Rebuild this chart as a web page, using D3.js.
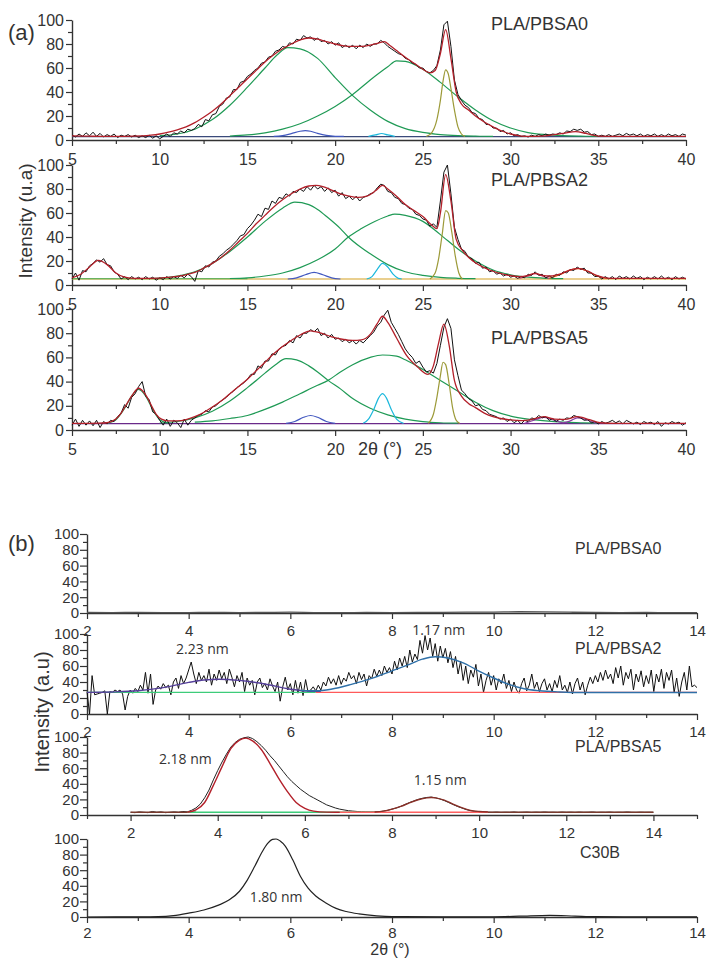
<!DOCTYPE html>
<html>
<head>
<meta charset="utf-8">
<script src="https://cdn.jsdelivr.net/npm/d3@7"></script>
<style>
body { margin: 0; background: #fff; }
</style>
</head>
<body>
<div id="chart"></div>
<script>
// ---------- panel (a) : WAXS, 2theta 5..40, measured every 0.2 deg ----------
var labelsA = ["PLA/PBSA0", "PLA/PBSA2", "PLA/PBSA5"];
var xTicksA = [5, 10, 15, 20, 25, 30, 35, 40];
var xMinorA = [7.5, 12.5, 17.5, 22.5, 27.5, 32.5, 37.5];
var yTicks = [0, 20, 40, 60, 80, 100];
var yMinor = [10, 30, 50, 70, 90];

var rawA0 = [
  [4, 2.5, 5, 3, 6], [3.5, 6.5, 3, 5.5, 2.5], [4.5, 3, 5, 2, 4], [3, 4.5, 2.5, 4, 2],
  [3.5, 2, 4, 1.5, 3.5], [1, 3, 5, 3, 6], [5, 7.5, 6, 9, 8], [9.5, 13, 11, 17, 16],
  [21, 22, 28, 30, 35], [36, 42, 42, 48, 49], [53, 55, 58, 60, 64], [65, 69, 70, 74, 75],
  [78, 77, 81, 80, 84], [83, 87, 85, 86, 83], [85, 82, 83, 80, 82], [79, 81, 77, 79, 77],
  [79, 76, 79, 77, 80], [78, 80, 80, 83, 81], [78, 76, 74, 72, 71], [68, 67, 64, 63, 60],
  [60, 57, 56, 58, 62], [75, 96, 99, 78, 50], [38, 33, 29, 27, 23], [22, 18, 17, 13, 13],
  [10, 10, 7, 8, 5], [6, 3.5, 4.5, 3, 3.5], [2.5, 4, 3, 4.5, 3.5], [5, 4, 5, 4.5, 6],
  [5, 7.5, 7, 9, 8], [9, 6.5, 7, 4.5, 5], [3, 4, 3, 4.5, 3], [4, 5, 3.5, 5.5, 4],
  [5, 3.5, 5, 3, 4.5], [3.5, 5, 3, 4.5, 3], [5, 3.5, 4.5, 3, 5], [4]
];
var rawA2 = [
  [5, 10, 4, 12, 11], [16, 18, 21, 19, 22], [17, 16, 11, 9, 5], [7, 4.5, 7, 5, 6.5],
  [4.5, 7, 5, 6.5, 4], [6, 4.5, 7, 5, 7], [5.5, 8, 6, 9, 7], [3, 12, 11, 16, 15],
  [19, 20, 24, 26, 29], [31, 34, 37, 41, 42], [47, 50, 54, 59, 57], [64, 63, 70, 68, 73],
  [72, 76, 74, 78, 77], [80, 78, 82, 79, 83], [80, 82, 78, 81, 77], [79, 74, 77, 72, 74],
  [71, 74, 70, 73, 74], [76, 77, 81, 84, 83], [78, 77, 73, 72, 68], [67, 64, 63, 59, 58],
  [55, 54, 49, 51, 48], [70, 94, 100, 76, 48], [38, 30, 28, 23, 22], [18, 19, 14, 15, 11],
  [12, 9, 10, 7.5, 9], [6.5, 7.5, 5.5, 7, 6], [9, 8, 11, 8, 9], [6, 7.5, 6, 9, 8],
  [11, 10, 13, 12, 15], [13, 14, 10, 10, 7], [7.5, 5, 7, 5, 7], [4.5, 7.5, 5.5, 7, 5],
  [7.5, 5.5, 7, 4.5, 6.5], [5, 7, 5, 7.5, 5], [6.5, 4.5, 7, 5, 6.5], [5]
];
var rawA5 = [
  [4, 9, 3, 8, 4], [7.5, 3.5, 8, 2, 7], [5, 8, 7, 11, 14], [21, 18, 27, 30, 36],
  [40, 28, 25, 15, 13], [8, 4, 9, 3, 8], [6, 2, 9, 4, 8], [10, 12, 13, 16, 15],
  [19, 20, 23, 25, 27], [30, 32, 35, 37, 39], [42, 46, 46, 53, 51], [57, 57, 63, 62, 67],
  [69, 70, 74, 72, 78], [76, 80, 80, 83, 81], [84, 78, 80, 76, 79], [75, 76, 73, 75, 72],
  [74, 71, 74, 72, 75], [78, 81, 86, 89, 95], [99, 89, 84, 79, 73], [67, 63, 60, 55, 57],
  [52, 48, 49, 47, 55], [70, 85, 92, 84, 58], [45, 33, 30, 26, 24], [20, 21, 17, 16, 13],
  [12, 11, 9, 10, 7], [9, 6, 8, 5, 8], [7, 10, 9, 12, 10], [11, 8, 9.5, 7, 9],
  [8, 10, 9.5, 12, 11], [10, 8, 8.5, 6, 7], [5, 7, 5.5, 6.5, 8], [6, 7.5, 5, 8, 6.5],
  [5, 6.5, 4.5, 7, 5.5], [6.5, 4.5, 7, 3, 6], [5, 7, 5.5, 6.5, 4], [6]
];

// fitted curves, [2theta, intensity]
var fitA0 = [[5,3.5],[6,3.2],[7,3],[8,3],[9,3.4],[9.5,4],[10,5],[10.5,6.5],[11,8.5],[11.5,11],[12,14.5],[12.5,19],[13,24],[13.5,30],[14,37],[14.5,44],[15,51],[15.5,58],[16,65],[16.5,71],[17,76],[17.5,80],[18,83.5],[18.5,85],[19,84],[19.5,82],[20,80],[20.5,78.5],[21,78],[21.5,78],[22,79],[22.5,81],[22.8,82],[23.1,79],[23.5,74.5],[24,69],[24.5,64],[25,59],[25.4,56],[25.7,58],[26,72],[26.3,92],[26.6,68],[26.9,40],[27.2,30],[27.6,25],[28,20],[28.5,15],[29,11],[29.5,7.5],[30,5],[30.5,3.5],[31,3],[32,3.5],[33,5.5],[33.7,7],[34.3,5.5],[35,3.3],[36,3],[40,3]];
var g1A0 = [[10,3.6],[11,5],[12,9],[13,17],[14,29],[15,44],[16,60],[16.7,71],[17.3,77],[18,76],[19,68],[20,52],[21,37],[22,25],[23,15.5],[24,9.5],[25,6.3],[26,4.5],[27,3.6],[28,3.2],[29,3]];
var g2A0 = [[14,3.3],[15,4.2],[16,6],[17,9],[18,13.5],[19,20],[20,28],[21,38],[22,50],[23,61],[23.5,66],[24,65.5],[25,59],[26,48],[27,36],[28,25],[29,16],[30,10],[31,6.2],[32,4.5],[33,3.6],[34,3.2],[35,3]];
var blueA0 = [[16.5,3],[17,3.6],[17.5,5.3],[18,7.3],[18.3,7.8],[18.6,7.3],[19,5.5],[19.5,3.8],[20,3.1],[20.5,3]];
var cyanA0 = [[21.9,3],[22.3,4.2],[22.65,5.4],[23,4.2],[23.4,3]];
var oliveA0 = [[25.2,3],[25.5,6],[25.8,17],[26,33],[26.15,49],[26.3,58.5],[26.45,55],[26.6,43],[26.8,25],[27,11],[27.2,5],[27.4,3]];
var baseA0 = [[5,2.8],[40,2.8]];

var fitA2 = [[5,6],[5.5,9],[6,15],[6.5,20.5],[7,17],[7.5,10],[8,6.5],[8.5,5.6],[9,5.5],[10,5.8],[10.5,6.3],[11,7.2],[11.5,8.5],[12,10.5],[12.5,14],[13,18],[13.5,23],[14,29],[14.5,36],[15,43],[15.5,51],[16,58],[16.5,65],[17,71],[17.5,76],[18,80],[18.5,82.5],[18.9,83],[19.3,82],[19.8,79],[20.3,76],[20.8,74],[21.3,73],[21.8,74],[22.3,78.5],[22.7,83],[23,80],[23.5,74],[24,67],[24.5,62],[25,57],[25.5,50],[25.8,47],[26,60],[26.3,92],[26.6,70],[26.9,38],[27.3,28],[27.9,19.5],[28.8,12.5],[29.8,8.3],[30.5,7],[31,8],[31.4,9.7],[31.8,8],[32.3,7.5],[32.8,9],[33.3,12],[33.85,13.9],[34.4,11.5],[34.9,8],[35.4,6],[36,5.5],[40,5.5]];
var g1A2 = [[9,5.4],[10,5.8],[11,7.5],[12,11],[13,18],[14,28],[15,40],[16,53],[17,64],[17.7,69],[18.5,67],[19,63],[19.6,56],[20.3,47],[20.75,40],[21.5,31],[22,26],[23,17],[24,11],[25,8],[26,6.3],[27,5.6],[28,5.3]];
var g2A2 = [[14,5.4],[15,6],[16,7.5],[17,10],[18,14.5],[19,21],[20,30],[20.75,40],[21.5,47],[22,51],[23,57.5],[23.4,59],[24,58],[25,53],[26,42],[27,30],[28,20],[29,12.5],[30,8.5],[31,6.5],[32,5.6],[33,5.3]];
var blueA2 = [[17.3,5],[17.8,6],[18.3,8.5],[18.8,10.5],[19.3,8.5],[19.8,6],[20.3,5]];
var cyanA2 = [[21.8,5],[22.1,7],[22.4,13],[22.7,18],[23,15],[23.3,9],[23.6,5.5],[23.8,5]];
var oliveA2 = [[25.4,5],[25.7,10],[25.9,22],[26.1,42],[26.3,62],[26.45,60],[26.65,44],[26.85,24],[27.05,10],[27.25,5]];
var magentaA2 = [[30.5,5.5],[31,7.5],[31.4,9.5],[31.8,7.5],[32.2,5.5]];
var orangeA2 = [[32.2,5.5],[32.8,8.5],[33.3,12],[33.85,13.6],[34.4,11.5],[34.9,7.5],[35.5,5.5]];
var baseA2 = [[5,5],[40,5]];
var greenBaseA2 = [[5,5.2],[15,5.2]];

var fitA5 = [[5,5.5],[6,5.5],[6.5,5.6],[7,6],[7.5,9],[7.8,14],[8.1,21],[8.4,28],[8.8,34.5],[9.2,29],[9.5,21],[9.8,13],[10.1,9],[10.5,7.5],[11,7.5],[11.5,8.5],[12,11],[12.5,14.5],[13,19],[13.5,24],[14,30],[14.5,36],[15,42],[15.5,49],[16,56],[16.5,63],[17,69],[17.5,74],[18,78.5],[18.6,82],[19.2,80],[19.8,77],[20.4,75],[21,74],[21.5,74.5],[22,79],[22.4,88],[22.7,94],[23,89],[23.5,76],[24.1,61],[24.7,52],[25.3,46],[25.6,53],[25.9,72],[26.2,87.5],[26.5,70],[26.8,41],[27.2,28],[27.6,22],[28,18.5],[28.5,14],[29,11],[29.5,9.3],[30,8.3],[30.6,7.7],[31.2,8.7],[31.9,11],[32.5,9],[33.1,8.8],[33.8,11],[34.5,8.5],[35.1,6],[36,5.5],[40,5.5]];
var peakA5 = [[7,5.5],[7.5,8.5],[8,18],[8.4,28],[8.8,33.5],[9.2,28],[9.6,17],[10,8.5],[10.5,5.5]];
var g1A5 = [[10,5.8],[11,7],[12,10],[13,15.5],[14,24],[15,35],[16,47],[16.6,54],[17.2,59],[17.8,58],[18.5,53],[19,48],[19.6,41],[20.3,34],[21,26],[22,18],[23,12.5],[24,9],[25,7],[26,6],[27,5.6]];
var g2A5 = [[12,6.5],[13,7.5],[14,9.5],[15,12],[16,17],[17,23],[18,30],[19,37],[19.6,41],[20.3,48],[21,54],[22,60],[22.7,62],[23.5,61],[24,58],[25,50],[26,41],[27,32],[28,23],[29,16],[30,11.5],[31,9],[32,7.5],[33,6.5],[34,6],[35,5.6]];
var blueA5 = [[17.2,5.5],[17.7,7],[18.2,10.5],[18.6,12],[19,10.5],[19.5,7],[20,5.5]];
var cyanA5 = [[21.6,5.5],[21.9,9],[22.2,17],[22.5,27],[22.7,30],[22.9,27],[23.2,17],[23.5,9],[23.9,5.5]];
var oliveA5 = [[25.3,5.5],[25.6,13],[25.8,27],[26,45],[26.15,56],[26.3,54],[26.5,38],[26.7,18],[26.9,8],[27.1,5.5]];
var purpleA5 = [[30.8,5.5],[31.4,8.5],[31.9,10.5],[32.4,8.5],[33,6],[33.4,7.5],[33.8,10],[34.3,8.5],[34.9,5.5]];
var baseA5 = [[5,5.3],[40,5.3]];

// ---------- panel (b) : SAXS, 2theta 2..14 ----------
var labelsB = ["PLA/PBSA0", "PLA/PBSA2", "PLA/PBSA5", "C30B"];
var xTicksB = [2, 4, 6, 8, 10, 12, 14];
var xMinorB = [3, 5, 7, 9, 11, 13];
var xMinorB5 = [1, 3, 5, 7, 9, 11, 13, 15];
var spacingB = [
  {text: "2.23 nm", plot: 1, x: 3.75, y: 75},
  {text: "1.17 nm", plot: 1, x: 8.4, y: 99},
  {text: "2.18 nm", plot: 2, x: 2.65, y: 65},
  {text: "1.15 nm", plot: 2, x: 8.5, y: 38},
  {text: "1.80 nm", plot: 3, x: 5.2, y: 19}
];

var lineB0 = [[2,0.8],[2.5,0.6],[3,0.7],[3.5,0.5],[4,0.6],[4.5,0.8],[5,0.5],[5.5,0.7],[6,1],[6.5,0.6],[7,0.5],[7.5,0.7],[8,0.6],[8.5,0.8],[9,0.9],[9.5,1],[10,1.2],[10.5,1.6],[11,1.4],[11.5,1],[12,0.7],[12.5,0.6],[13,0.7],[13.5,0.5],[14,0.6]];

// PBSA2, every 0.05 deg
var rawB2 = [
  [28, 0, 48, 24, 25, 26, 27, 29, 0, 28, 27, 30, 28, 30, 25, 5, 22, 30, 26, 32],
  [28, 36, 30, 52, 26, 50, 12, 30, 35, 31, 38, 33, 36, 24, 40, 45, 32, 48, 38, 45],
  [55, 65, 50, 38, 52, 42, 48, 40, 56, 36, 50, 42, 55, 44, 52, 38, 56, 46, 34, 48],
  [40, 52, 28, 45, 36, 42, 24, 40, 45, 33, 38, 30, 44, 35, 28, 40, 16, 34, 46, 30],
  [38, 24, 42, 26, 40, 23, 43, 27, 30, 34, 29, 36, 30, 40, 35, 46, 38, 44, 36, 48],
  [37, 45, 41, 52, 44, 48, 38, 52, 43, 50, 35, 48, 44, 56, 47, 55, 48, 60, 52, 58],
  [50, 66, 55, 70, 60, 72, 58, 80, 65, 75, 68, 92, 76, 98, 80, 95, 72, 88, 66, 85],
  [70, 82, 64, 78, 58, 72, 50, 66, 42, 60, 38, 55, 46, 62, 35, 50, 27, 42, 52, 36],
  [48, 30, 44, 38, 50, 32, 42, 28, 40, 30, 26, 38, 45, 29, 36, 50, 32, 40, 28, 38],
  [44, 30, 38, 28, 42, 33, 48, 30, 36, 27, 40, 25, 38, 45, 30, 40, 24, 36, 46, 38],
  [48, 40, 52, 42, 55, 44, 50, 38, 58, 45, 60, 36, 52, 44, 56, 30, 50, 40, 54, 34],
  [48, 38, 55, 28, 50, 40, 56, 32, 52, 42, 55, 27, 45, 22, 40, 52, 30, 60, 34, 36],
  [33]
];
var purpleB2 = [[2,27],[2.5,27.5],[3,29],[3.5,33],[4,39.5],[4.3,42.5],[4.6,43.5],[5,42],[5.5,37.5],[6,31],[6.4,28.5],[6.6,28.5]];
var blueB2 = [[6.2,29.5],[6.5,29],[6.8,31],[7.2,37],[7.6,44.5],[8,54],[8.3,61],[8.6,68.5],[8.85,71.6],[9.1,70],[9.4,64],[9.7,54],[10,45],[10.3,37],[10.6,31.5],[10.9,29],[11.3,27.5],[11.8,26.8],[14,26.8]];
var greenBaseB2 = [[2,27],[6.5,27]];
var redBaseB2 = [[6.5,27],[14,27]];

// PBSA5, every 0.1 deg
var rawB5 = [
  [3.5, 3, 4, 3.5, 3, 4.5, 3.5, 4, 3, 3.5],
  [4, 3.5, 4.5, 4, 6, 9, 14, 22, 32, 45],
  [57, 68, 78, 87, 93, 97, 99, 100, 98, 94],
  [89, 83, 76, 70, 63, 56, 49, 43, 38, 33],
  [29, 25, 22, 19, 16, 13, 11, 9, 7.5, 6.5],
  [5.5, 5, 4.5, 4.2, 4, 4, 4, 4, 5, 6],
  [7.5, 9, 11, 13.5, 16, 18, 20, 21.5, 22.5, 23],
  [22, 20.5, 18.5, 16, 13.5, 11, 9, 7, 5.5, 4.5],
  [4, 3.8, 3.6, 3.5, 3.8, 3.4, 3.6, 3.5, 3.9, 3.4],
  [3.6, 3.8, 3.4, 3.7, 3.5, 3.9, 3.5, 3.6, 3.4, 3.8],
  [3.5, 3.7, 3.4, 3.8, 3.5, 3.6, 3.9, 3.4, 3.6, 3.5],
  [3.8, 3.4, 3.6, 3.5, 3.9, 3.5, 3.4, 3.7, 3.5, 3.6],
  [3.5]
];
var fit1B5 = [[3.3,3.5],[3.5,6.5],[3.7,16],[3.9,38],[4.1,62],[4.3,85],[4.5,96],[4.65,98.5],[4.8,95],[5,84],[5.2,66],[5.4,47],[5.6,30],[5.8,16],[6,8.5],[6.2,5],[6.5,3.7],[6.8,3.5]];
var fit2B5 = [[7.6,3.8],[7.8,5],[8,7.5],[8.2,11],[8.4,15.5],[8.6,19.5],[8.8,22],[8.9,22.5],[9,22],[9.2,19],[9.4,14],[9.6,9.5],[9.8,6],[10,4.5],[10.2,3.8]];
var brownBaseB5 = [[[2,3.5],[3.5,3.5]], [[10,3.5],[14,3.5]]];
var greenBaseB5 = [[3.3,3.5],[7.6,3.5]];
var redBaseB5 = [[6.8,3.5],[10.2,3.5]];

var lineC30B = [[2,0],[3,0.2],[3.4,0.5],[3.7,1.8],[4,5],[4.3,9],[4.6,15.5],[4.8,22],[5,33],[5.15,47],[5.3,65],[5.45,84],[5.55,94],[5.65,99.5],[5.72,100],[5.8,97.5],[5.9,91],[6.05,73],[6.2,52],[6.35,37],[6.5,27],[6.7,18],[6.9,11],[7.1,7],[7.35,4],[7.7,1.5],[8,0.5],[9,0.2],[10,0.3],[10.5,1],[11.1,2.2],[11.6,1.2],[12,0.4],[13,0.2],[14,0.2]];

// ---------------------------------------------------------------------------
var width = 707, height = 959;
var ink = "#333";

var svg = d3.select("#chart")
    .append("svg")
    .attr("width", width)
    .attr("height", height)
    .style("font-family", "'Liberation Sans', Arial, sans-serif");

function grid(start, step, rows) {
    var vals = [].concat.apply([], rows);
    return vals.map(function (v, i) { return [start + i * step, v]; });
}

function axes(x, y, o) {
    var bottom = y(0), left = x.range()[0];
    var gx = svg.append("g").attr("transform", "translate(0," + bottom + ")")
        .call(d3.axisBottom(x).tickValues(o.xTicks).tickSize(6).tickSizeOuter(0)
            .tickPadding(o.xPad).tickFormat(d3.format("d")));
    svg.append("g").attr("transform", "translate(0," + bottom + ")")
        .call(d3.axisBottom(x).tickValues(o.xMinor).tickSize(4).tickSizeOuter(0).tickFormat(""))
        .select(".domain").remove();
    var gy = svg.append("g").attr("transform", "translate(" + left + ",0)")
        .call(d3.axisLeft(y).tickValues(yTicks).tickSize(o.yTick).tickSizeOuter(0).tickPadding(o.yPad));
    svg.append("g").attr("transform", "translate(" + left + ",0)")
        .call(d3.axisLeft(y).tickValues(yMinor).tickSize(4).tickSizeOuter(0).tickFormat(""))
        .select(".domain").remove();
    svg.selectAll(".domain").attr("stroke", ink).attr("stroke-width", 1.4);
    svg.selectAll(".tick line").attr("stroke", ink).attr("stroke-width", 1.2);
    [gx, gy].forEach(function (g) {
        g.selectAll("text").attr("fill", ink).style("font-size", o.font + "px")
            .style("font-family", "'Liberation Sans', Arial, sans-serif");
    });
}

function draw(x, y, data, color, w, smooth) {
    var line = d3.line()
        .x(function (d) { return x(d[0]); })
        .y(function (d) { return y(d[1]); })
        .curve(smooth ? d3.curveMonotoneX : d3.curveLinear);
    svg.append("path")
        .datum(data)
        .attr("d", line)
        .attr("fill", "none")
        .attr("stroke", color)
        .attr("stroke-width", w)
        .attr("stroke-linejoin", "round");
}

function label(txt, x, y, size, anchor, font) {
    return svg.append("text").attr("x", x).attr("y", y).text(txt)
        .attr("fill", ink).style("font-size", size + "px")
        .attr("text-anchor", anchor || "start")
        .style("font-family", font || "'Liberation Sans', Arial, sans-serif");
}

var green = "#1f9a55", blue = "#4258c0", cyan = "#1cb8dc", olive = "#9c9a38", fitRed = "#b3202a";

// ---------------- panel (a) ----------------
var xA = d3.scaleLinear().domain([5, 40]).range([72, 686]);
var rowsA = [[140, 20], [285, 165], [430, 309]];
var plotsA = [
    {raw: rawA0, fit: fitA0, comps: [[baseA0, "#3a4a7a"], [g1A0, green], [g2A0, green], [blueA0, blue], [cyanA0, cyan], [oliveA0, olive]]},
    {raw: rawA2, fit: fitA2, comps: [[baseA2, "#d4a020"], [greenBaseA2, "#3caa50"], [g1A2, green], [g2A2, green], [blueA2, blue], [cyanA2, cyan], [oliveA2, olive], [magentaA2, "#d0407a"], [orangeA2, "#e8681a"]]},
    {raw: rawA5, fit: fitA5, comps: [[baseA5, "#6a2a8a"], [peakA5, green], [g1A5, green], [g2A5, green], [blueA5, blue], [cyanA5, cyan], [oliveA5, olive], [purpleA5, "#8a3aa0"]]}
];
var labelYA = [29.5, 186, 344];

plotsA.forEach(function (p, i) {
    var y = d3.scaleLinear().domain([0, 100]).range(rowsA[i]);
    axes(xA, y, {xTicks: xTicksA, xMinor: xMinorA, xPad: 8, yTick: 6, yPad: 2, font: 16});
    p.comps.forEach(function (c) { draw(xA, y, c[0], c[1], 1.2, true); });
    draw(xA, y, grid(5, 0.2, p.raw), "#111", 1, false);
    draw(xA, y, p.fit, fitRed, 1.3, true);
    label(labelsA[i], 491, labelYA[i], 18);
});

label("(a)", 8, 40, 22);
label("2θ (°)", 380, 455, 18, "middle");
label("Intensity (u.a)", 0, 0, 19, "middle").attr("transform", "translate(32,221) rotate(-90)");

// ---------------- panel (b) ----------------
var xB = d3.scaleLinear().domain([2, 14]).range([87, 697]);
var xB5 = d3.scaleLinear().domain([1, 15]).range([87, 697]);
var rowsB = [[613, 534], [714, 634], [815, 737], [917, 839]];
var yB = rowsB.map(function (r) { return d3.scaleLinear().domain([0, 100]).range(r); });
var labelPosB = [[575, 554], [575, 654], [575, 752], [580, 858]];

var optB = {xTicks: xTicksB, xMinor: xMinorB, xPad: 6, yTick: 7, yPad: 1, font: 15};
axes(xB, yB[0], optB);
axes(xB, yB[1], optB);
axes(xB5, yB[2], {xTicks: xTicksB, xMinor: xMinorB5, xPad: 6, yTick: 7, yPad: 1, font: 15});
axes(xB, yB[3], {xTicks: xTicksB, xMinor: xMinorB, xPad: 4, yTick: 7, yPad: 1, font: 15});

draw(xB, yB[0], lineB0, "#555", 1.3, true);

draw(xB, yB[1], grid(2, 0.05, rawB2), "#111", 1, false);
draw(xB, yB[1], greenBaseB2, "#3dcc7a", 1.3, false);
draw(xB, yB[1], redBaseB2, "#ff5a5a", 1.3, false);
draw(xB, yB[1], purpleB2, "#56409a", 1.4, true);
draw(xB, yB[1], blueB2, "#2f70a8", 1.4, true);

draw(xB5, yB[2], grid(2, 0.1, rawB5), "#222", 1, false);
brownBaseB5.forEach(function (seg) { draw(xB5, yB[2], seg, "#7a3b2e", 1.6, false); });
draw(xB5, yB[2], greenBaseB5, "#3dcc7a", 1.3, false);
draw(xB5, yB[2], redBaseB5, "#ff6060", 1.3, false);
draw(xB5, yB[2], fit1B5, fitRed, 1.4, true);
draw(xB5, yB[2], fit2B5, "#8a3028", 1.4, true);

draw(xB, yB[3], lineC30B, "#222", 1.2, true);

labelsB.forEach(function (t, i) { label(t, labelPosB[i][0], labelPosB[i][1], 16); });

spacingB.forEach(function (s) {
    var sx = s.plot === 2 ? xB5 : xB;
    label(s.text, sx(s.x), yB[s.plot](s.y), 14, "start", "'Open Sans', 'Liberation Sans', sans-serif");
});

label("(b)", 8, 551, 22);
label("2θ (°)", 390, 955, 16, "middle");
label("Intensity (a.u)", 0, 0, 20, "middle").attr("transform", "translate(49,712) rotate(-90)");
</script>
</body>
</html>
